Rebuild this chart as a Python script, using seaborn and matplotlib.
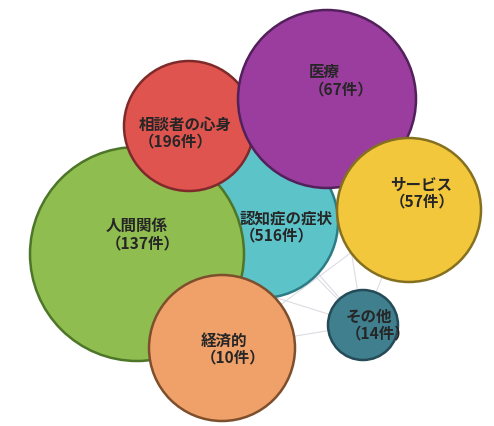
import matplotlib
matplotlib.use("Agg")
import matplotlib.pyplot as plt
from matplotlib.patches import Circle
import seaborn as sns
import pandas as pd
from itertools import combinations

# Consultation topics and their case counts
categories = ["認知症の症状", "人間関係", "相談者の心身", "医療", "サービス", "経済的", "その他"]
counts = [516, 137, 196, 67, 57, 10, 14]

# Bubble layout (canvas pixel units): centre x, centre y, radius
center_x = [262, 137, 189, 327, 409, 222, 363]
center_y = [222, 254, 126, 99, 210, 348, 325]
radius = [76, 107, 65, 89, 72, 73, 35]
# Left edge and vertical middle of each two-line label
label_x = [240, 106, 139, 309, 390, 201, 346]
label_y = [227, 235, 133, 81, 193, 349, 325]

fills = ["#5cc3c9", "#8fbd50", "#e0544f", "#9a3d9f", "#f3c73c", "#f0a169", "#3f7f8e"]
edges = ["#2d7c85", "#4d7628", "#7e2a2a", "#52205a", "#857020", "#7d4f2c", "#244b57"]

sns.set_theme(style="white")
plt.rcParams["font.family"] = ["Noto Sans CJK JP", "DejaVu Sans"]

fig = plt.figure(figsize=(4.94, 4.26), dpi=100)
ax = fig.add_axes([0, 0, 1, 1])

# Faint network links between every pair of topics, drawn underneath
rows = []
for k, (i, j) in enumerate(combinations(range(len(categories)), 2)):
    rows.append({"link": k, "x": center_x[i], "y": center_y[i]})
    rows.append({"link": k, "x": center_x[j], "y": center_y[j]})
links = pd.DataFrame(rows)
sns.lineplot(data=links, x="x", y="y", units="link", estimator=None, sort=False,
             color="#dcdce2", linewidth=0.8, ax=ax, zorder=1, legend=False)
ax.set_xlim(0, 494)
ax.set_ylim(426, 0)
ax.axis("off")

for k in range(len(categories)):
    ax.add_patch(Circle((center_x[k], center_y[k]), radius[k],
                        facecolor=fills[k], edgecolor=edges[k], linewidth=1.8,
                        zorder=2 + k))
    ax.text(label_x[k], label_y[k], f"{categories[k]}\n（{counts[k]}件）",
            ha="left", va="center", multialignment="left",
            fontsize=11.2, fontweight="bold", color="#262626",
            linespacing=1.1, zorder=20)

fig.savefig("out.png", dpi=100, facecolor="white")
